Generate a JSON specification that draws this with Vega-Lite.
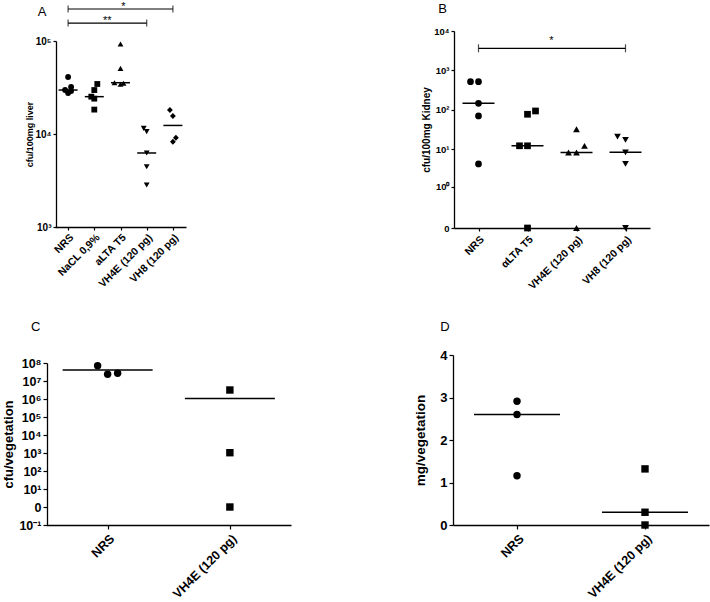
{
  "$schema": "https://vega.github.io/schema/vega-lite/v6.json",
  "width": 710,
  "height": 602,
  "autosize": "none",
  "padding": 0,
  "background": "white",
  "config": {
    "view": {"stroke": null},
    "axis": {
      "grid": false,
      "domainColor": "black",
      "tickColor": "black",
      "labelColor": "black",
      "titleColor": "black",
      "labelFont": "Liberation Sans",
      "titleFont": "Liberation Sans",
      "labelFontWeight": "bold",
      "titleFontWeight": "bold",
      "domainWidth": 1.3,
      "tickWidth": 1.2,
      "labelOverlap": false
    },
    "text": {"font": "Liberation Sans", "color": "black"}
  },
  "datasets": {
    "A": [
      {"group": "NRS", "value": 41000, "slot": 0},
      {"group": "NRS", "value": 32000, "slot": 1},
      {"group": "NRS", "value": 29700, "slot": -1},
      {"group": "NRS", "value": 29000, "slot": 1},
      {"group": "NRS", "value": 27600, "slot": 0},
      {"group": "NaCL 0,9%", "value": 34500, "slot": 1},
      {"group": "NaCL 0,9%", "value": 29700, "slot": 0},
      {"group": "NaCL 0,9%", "value": 25200, "slot": -1},
      {"group": "NaCL 0,9%", "value": 24000, "slot": 0},
      {"group": "NaCL 0,9%", "value": 18300, "slot": 0},
      {"group": "aLTA T5", "value": 93000, "slot": 0},
      {"group": "aLTA T5", "value": 50800, "slot": 0},
      {"group": "aLTA T5", "value": 35600, "slot": -2},
      {"group": "aLTA T5", "value": 34200, "slot": 0},
      {"group": "aLTA T5", "value": 35100, "slot": 1},
      {"group": "VH4E (120 pg)", "value": 11500, "slot": -1},
      {"group": "VH4E (120 pg)", "value": 10600, "slot": 0},
      {"group": "VH4E (120 pg)", "value": 6250, "slot": 0},
      {"group": "VH4E (120 pg)", "value": 4450, "slot": 0},
      {"group": "VH4E (120 pg)", "value": 2830, "slot": 0},
      {"group": "VH8 (120 pg)", "value": 18100, "slot": -1},
      {"group": "VH8 (120 pg)", "value": 15600, "slot": 0},
      {"group": "VH8 (120 pg)", "value": 9120, "slot": 1},
      {"group": "VH8 (120 pg)", "value": 8260, "slot": 0}
    ],
    "B": [
      {"group": "NRS", "value": 516, "slot": -2},
      {"group": "NRS", "value": 516, "slot": 0},
      {"group": "NRS", "value": 146, "slot": 0},
      {"group": "NRS", "value": 69.7, "slot": 0},
      {"group": "NRS", "value": 4.14, "slot": 0},
      {"group": "αLTA T5", "value": 93.3, "slot": 2},
      {"group": "αLTA T5", "value": 76.9, "slot": 0},
      {"group": "αLTA T5", "value": 12.1, "slot": -2},
      {"group": "αLTA T5", "value": 12.1, "slot": 0},
      {"group": "αLTA T5", "value": 0, "slot": 0},
      {"group": "VH4E (120 pg)", "value": 32, "slot": 0},
      {"group": "VH4E (120 pg)", "value": 12.1, "slot": 2},
      {"group": "VH4E (120 pg)", "value": 8.15, "slot": -2},
      {"group": "VH4E (120 pg)", "value": 8.15, "slot": 0},
      {"group": "VH4E (120 pg)", "value": 0, "slot": 0},
      {"group": "VH8 (120 pg)", "value": 20.8, "slot": -2},
      {"group": "VH8 (120 pg)", "value": 17.1, "slot": 0},
      {"group": "VH8 (120 pg)", "value": 8.25, "slot": 0},
      {"group": "VH8 (120 pg)", "value": 4.14, "slot": 0},
      {"group": "VH8 (120 pg)", "value": 0, "slot": 0}
    ],
    "C": [
      {"group": "NRS", "value": 70800000, "slot": -1},
      {"group": "NRS", "value": 23600000, "slot": 0},
      {"group": "NRS", "value": 26800000, "slot": 1},
      {"group": "VH4E (120 pg)", "value": 3160000, "slot": 0},
      {"group": "VH4E (120 pg)", "value": 1040, "slot": 0},
      {"group": "VH4E (120 pg)", "value": 1, "slot": 0}
    ],
    "D": [
      {"group": "NRS", "value": 2.91},
      {"group": "NRS", "value": 2.6},
      {"group": "NRS", "value": 1.16},
      {"group": "VH4E (120 pg)", "value": 1.32},
      {"group": "VH4E (120 pg)", "value": 0.3},
      {"group": "VH4E (120 pg)", "value": 0}
    ]
  },
  "layer": [
    {
      "layer": [
        {
          "data": {"name": "A"},
          "mark": {"type": "point", "filled": true, "opacity": 1, "size": 34, "color": "black"},
          "encoding": {
            "x": {"field": "group", "type": "nominal", "sort": null,
              "scale": {"type": "point", "domain": ["NRS", "NaCL 0,9%", "aLTA T5", "VH4E (120 pg)", "VH8 (120 pg)"], "range": [55, 186], "padding": 0.5},
              "axis": {"orient": "bottom", "offset": -375, "title": null, "labelAngle": -45, "labelAlign": "right", "labelBaseline": "top", "labelFontSize": 10.5, "tickSize": 3, "labelPadding": 2}},
            "xOffset": {"field": "slot", "type": "quantitative", "scale": {"domain": [-2, 2], "range": [-6, 6]}},
            "y": {"field": "value", "type": "quantitative",
              "scale": {"type": "log", "domain": [1000, 100000], "range": [227, 41], "nice": false},
              "axis": {"orient": "left", "offset": -56, "title": "cfu/100mg liver", "values": [1000, 10000, 100000], "labelExpr": "'10' + (datum.value < 5000 ? '³' : datum.value < 50000 ? '⁴' : '⁵')", "labelFontSize": 10, "titleFontSize": 9, "tickSize": 3, "titlePadding": 0}},
            "shape": {"field": "group", "type": "nominal", "legend": null,
              "scale": {"domain": ["NRS", "NaCL 0,9%", "aLTA T5", "VH4E (120 pg)", "VH8 (120 pg)"], "range": ["circle", "square", "triangle-up", "triangle-down", "diamond"]}}
          }
        },
        {
          "data": {"name": "A"},
          "mark": {"type": "tick", "size": 19, "thickness": 1.5, "color": "black"},
          "encoding": {
            "x": {"field": "group", "type": "nominal", "sort": null},
            "y": {"aggregate": "median", "field": "value", "type": "quantitative"}
          }
        },
        {
          "data": {"values": [{}]},
          "mark": {"type": "rule", "color": "black", "strokeWidth": 1.2},
          "encoding": {
            "x": {"datum": "NRS", "type": "nominal"},
            "x2": {"datum": "VH8 (120 pg)"},
            "y": {"datum": 220800, "type": "quantitative"}
          }
        },
        {
          "data": {"values": [{"g": "NRS"}, {"g": "VH8 (120 pg)"}]},
          "mark": {"type": "tick", "orient": "vertical", "size": 7, "thickness": 1.2, "color": "black"},
          "encoding": {
            "x": {"field": "g", "type": "nominal"},
            "y": {"datum": 220800, "type": "quantitative"}
          }
        },
        {
          "data": {"values": [{}]},
          "mark": {"type": "text", "text": "*", "fontSize": 11, "baseline": "alphabetic", "align": "center", "dx": 3, "dy": 1},
          "encoding": {
            "x": {"datum": "aLTA T5", "type": "nominal"},
            "y": {"datum": 220800, "type": "quantitative"}
          }
        },
        {
          "data": {"values": [{}]},
          "mark": {"type": "rule", "color": "black", "strokeWidth": 1.2},
          "encoding": {
            "x": {"datum": "NRS", "type": "nominal"},
            "x2": {"datum": "VH4E (120 pg)"},
            "y": {"datum": 156000, "type": "quantitative"}
          }
        },
        {
          "data": {"values": [{"g": "NRS"}, {"g": "VH4E (120 pg)"}]},
          "mark": {"type": "tick", "orient": "vertical", "size": 7, "thickness": 1.2, "color": "black"},
          "encoding": {
            "x": {"field": "g", "type": "nominal"},
            "y": {"datum": 156000, "type": "quantitative"}
          }
        },
        {
          "data": {"values": [{}]},
          "mark": {"type": "text", "text": "**", "fontSize": 11, "baseline": "alphabetic", "align": "center", "dx": 13, "dy": 1},
          "encoding": {
            "x": {"datum": "NaCL 0,9%", "type": "nominal"},
            "y": {"datum": 156000, "type": "quantitative"}
          }
        },
        {
          "data": {"values": [{}]},
          "mark": {"type": "text", "text": "A", "fontSize": 13, "baseline": "middle", "align": "center", "dx": -26},
          "encoding": {
            "x": {"datum": "NRS", "type": "nominal"},
            "y": {"datum": 205000, "type": "quantitative"}
          }
        }
      ]
    },
    {
      "layer": [
        {
          "data": {"name": "B"},
          "mark": {"type": "point", "filled": true, "opacity": 1, "size": 45, "color": "black"},
          "encoding": {
            "x": {"field": "group", "type": "nominal", "sort": null,
              "scale": {"type": "point", "domain": ["NRS", "αLTA T5", "VH4E (120 pg)", "VH8 (120 pg)"], "range": [454, 650], "padding": 0.5},
              "axis": {"orient": "bottom", "offset": -374, "title": null, "labelAngle": -45, "labelAlign": "right", "labelBaseline": "top", "labelFontSize": 10.5, "tickSize": 3, "labelPadding": 3}},
            "xOffset": {"field": "slot", "type": "quantitative", "scale": {"domain": [-2, 2], "range": [-8, 8]}},
            "y": {"field": "value", "type": "quantitative",
              "scale": {"type": "symlog", "constant": 0.1, "domain": [0, 10000], "range": [228, 31], "nice": false, "zero": false},
              "axis": {"orient": "left", "offset": -454, "title": "cfu/100mg Kidney", "values": [0, 1, 10, 100, 1000, 10000], "labelExpr": "datum.value == 0 ? '0' : '10' + ['⁰','¹','²','³','⁴'][round(log(datum.value)/LN10)]", "labelFontSize": 9.5, "titleFontSize": 10, "tickSize": 3, "titlePadding": 2}},
            "shape": {"field": "group", "type": "nominal", "legend": null,
              "scale": {"domain": ["NRS", "αLTA T5", "VH4E (120 pg)", "VH8 (120 pg)"], "range": ["circle", "square", "triangle-up", "triangle-down"]}}
          }
        },
        {
          "data": {"name": "B"},
          "mark": {"type": "tick", "size": 32, "thickness": 1.5, "color": "black"},
          "encoding": {
            "x": {"field": "group", "type": "nominal", "sort": null},
            "y": {"aggregate": "median", "field": "value", "type": "quantitative"}
          }
        },
        {
          "data": {"values": [{}]},
          "mark": {"type": "rule", "color": "black", "strokeWidth": 1.2},
          "encoding": {
            "x": {"datum": "NRS", "type": "nominal"},
            "x2": {"datum": "VH8 (120 pg)"},
            "y": {"datum": 3639, "type": "quantitative"}
          }
        },
        {
          "data": {"values": [{"g": "NRS"}, {"g": "VH8 (120 pg)"}]},
          "mark": {"type": "tick", "orient": "vertical", "size": 8, "thickness": 1.2, "color": "black"},
          "encoding": {
            "x": {"field": "g", "type": "nominal"},
            "y": {"datum": 3639, "type": "quantitative"}
          }
        },
        {
          "data": {"values": [{}]},
          "mark": {"type": "text", "text": "*", "fontSize": 11, "baseline": "alphabetic", "align": "center", "dx": 24, "dy": -4},
          "encoding": {
            "x": {"datum": "αLTA T5", "type": "nominal"},
            "y": {"datum": 3639, "type": "quantitative"}
          }
        },
        {
          "data": {"values": [{}]},
          "mark": {"type": "text", "text": "B", "fontSize": 13, "baseline": "middle", "align": "center", "dx": -36},
          "encoding": {
            "x": {"datum": "NRS", "type": "nominal"},
            "y": {"datum": 36140, "type": "quantitative"}
          }
        }
      ]
    },
    {
      "layer": [
        {
          "data": {"name": "C"},
          "mark": {"type": "point", "filled": true, "opacity": 1, "size": 55, "color": "black"},
          "encoding": {
            "x": {"field": "group", "type": "nominal", "sort": null,
              "scale": {"type": "point", "domain": ["NRS", "VH4E (120 pg)"], "range": [46.5, 291], "padding": 0.5},
              "axis": {"orient": "bottom", "offset": -77, "title": null, "labelAngle": -45, "labelAlign": "right", "labelBaseline": "top", "labelFontSize": 12.5, "tickSize": 4, "labelPadding": 3}},
            "xOffset": {"field": "slot", "type": "quantitative", "scale": {"domain": [-1, 1], "range": [-10, 10]}},
            "y": {"field": "value", "type": "quantitative",
              "scale": {"type": "log", "domain": [0.1, 100000000], "range": [525, 363], "nice": false},
              "axis": {"orient": "left", "offset": -47, "title": "cfu/vegetation", "values": [0.1, 1, 10, 100, 1000, 10000, 100000, 1000000, 10000000, 100000000], "labelExpr": "datum.value == 1 ? '0' : '10' + ['⁻¹','','¹','²','³','⁴','⁵','⁶','⁷','⁸'][round(log(datum.value)/LN10)+1]", "labelFontSize": 12.5, "titleFontSize": 13, "tickSize": 4, "titlePadding": 3}},
            "shape": {"field": "group", "type": "nominal", "legend": null,
              "scale": {"domain": ["NRS", "VH4E (120 pg)"], "range": ["circle", "square"]}}
          }
        },
        {
          "data": {"name": "C"},
          "mark": {"type": "tick", "size": 90, "thickness": 1.5, "color": "black"},
          "encoding": {
            "x": {"field": "group", "type": "nominal", "sort": null},
            "y": {"aggregate": "mean", "field": "value", "type": "quantitative"}
          }
        },
        {
          "data": {"values": [{}]},
          "mark": {"type": "text", "text": "C", "fontSize": 13, "baseline": "middle", "align": "center", "dx": -72},
          "encoding": {
            "x": {"datum": "NRS", "type": "nominal"},
            "y": {"datum": 10000000000, "type": "quantitative"}
          }
        }
      ]
    },
    {
      "layer": [
        {
          "data": {"name": "D"},
          "mark": {"type": "point", "filled": true, "opacity": 1, "size": 55, "color": "black"},
          "encoding": {
            "x": {"field": "group", "type": "nominal", "sort": null,
              "scale": {"type": "point", "domain": ["NRS", "VH4E (120 pg)"], "range": [453, 709], "padding": 0.5},
              "axis": {"orient": "bottom", "offset": -77, "title": null, "labelAngle": -45, "labelAlign": "right", "labelBaseline": "top", "labelFontSize": 12.5, "tickSize": 4, "labelPadding": 3}},
            "y": {"field": "value", "type": "quantitative",
              "scale": {"type": "linear", "domain": [0, 4], "range": [525, 355], "nice": false},
              "axis": {"orient": "left", "offset": -453, "title": "mg/vegetation", "values": [0, 1, 2, 3, 4], "format": "d", "labelFontSize": 13, "titleFontSize": 13.5, "tickSize": 4, "titlePadding": 12}},
            "shape": {"field": "group", "type": "nominal", "legend": null,
              "scale": {"domain": ["NRS", "VH4E (120 pg)"], "range": ["circle", "square"]}}
          }
        },
        {
          "data": {"name": "D"},
          "mark": {"type": "tick", "size": 86, "thickness": 1.5, "color": "black"},
          "encoding": {
            "x": {"field": "group", "type": "nominal", "sort": null},
            "y": {"aggregate": "median", "field": "value", "type": "quantitative"}
          }
        },
        {
          "data": {"values": [{}]},
          "mark": {"type": "text", "text": "D", "fontSize": 13, "baseline": "middle", "align": "center", "dx": -72},
          "encoding": {
            "x": {"datum": "NRS", "type": "nominal"},
            "y": {"datum": 4.657, "type": "quantitative"}
          }
        }
      ]
    }
  ],
  "resolve": {
    "scale": {"x": "independent", "y": "independent", "xOffset": "independent", "shape": "independent"},
    "axis": {"x": "independent", "y": "independent"}
  }
}
